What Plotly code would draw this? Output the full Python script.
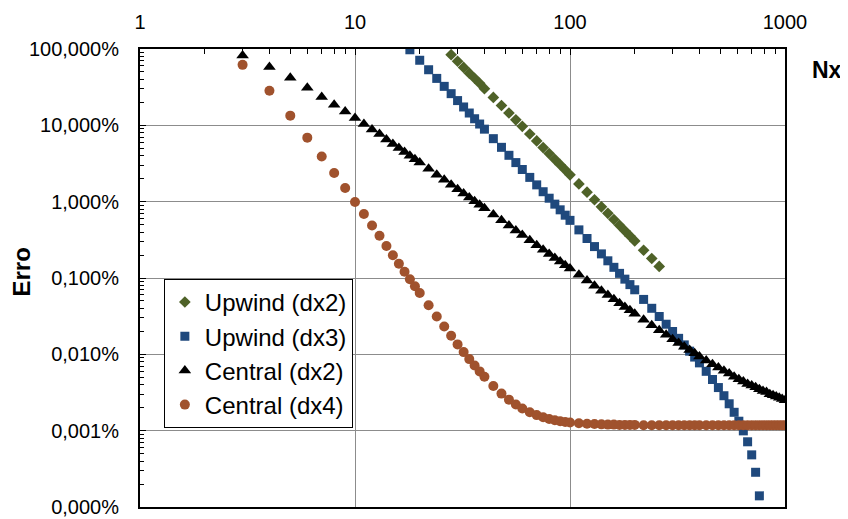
import plotly.graph_objects as go

# Sample sizes (Nx) shared by the series
N_all = [3, 4, 5, 6, 7, 8, 9, 10, 11, 12, 13, 14, 15, 16, 17, 18, 19, 20,
         22, 24, 26, 28, 30, 32, 34, 36, 38, 40, 44, 48, 52, 56, 60, 65, 70,
         75, 80, 85, 90, 95, 100, 110, 120, 130, 140, 150, 160, 170, 180, 190,
         200, 220, 240, 260, 280, 300, 320, 340, 360, 380, 400, 430, 460, 490,
         520, 550, 580, 610, 640, 670, 700, 730, 760, 790, 820, 850, 880, 910,
         940, 970, 1000]

# Upwind (dx2) : N = 28 .. 260
N_up2 = [28, 30, 32, 34, 36, 38, 40, 44, 48, 52, 56, 60, 65, 70, 75, 80, 85,
         90, 95, 100, 110, 120, 130, 140, 150, 160, 170, 180, 190, 200, 220,
         240, 260]
E_up2 = [84.2, 69.1, 57.4, 48.3, 41.4, 35.6, 30.2, 23.2, 18.2, 14.5, 11.8, 9.7,
         7.7, 6.25, 5.12, 4.26, 3.59, 3.05, 2.61, 2.25, 1.71, 1.33, 1.06, 0.855,
         0.703, 0.584, 0.490, 0.415, 0.356, 0.306, 0.231, 0.180, 0.142]

# Upwind (dx3) : N = 18 .. 760
N_up3 = [18, 20, 22, 24, 26, 28, 30, 32, 34, 36, 38, 40, 44, 48, 52, 56, 60,
         65, 70, 75, 80, 85, 90, 95, 100, 110, 120, 130, 140, 150, 160, 170,
         180, 190, 200, 220, 240, 260, 280, 300, 320, 340, 360, 380, 400, 430,
         460, 490, 520, 550, 580, 610, 640, 670, 700, 730, 760]
E_up3 = [97.7, 71.2, 53.5, 41.2, 32.4, 26.0, 21.1, 17.4, 14.5, 12.2, 10.4, 8.91,
         6.69, 5.15, 4.05, 3.25, 2.64, 2.08, 1.66, 1.35, 1.11, 0.928, 0.782,
         0.665, 0.569, 0.427, 0.329, 0.258, 0.207, 0.168, 0.138, 0.115, 0.0966,
         0.0819, 0.0701, 0.0524, 0.0401, 0.0313, 0.0248, 0.0199, 0.0162, 0.0133,
         0.0110, 0.00921, 0.00773, 0.00599, 0.00468, 0.00367, 0.00287, 0.00225,
         0.00174, 0.00133, 0.000994, 0.000715, 0.000482, 0.000285, 0.000140]

# Central (dx2) : N = 3 .. 1000 (all of N_all)
E_c2 = [82, 58, 42, 31, 23.5, 18.6, 15.2, 12.5, 10.4, 8.8, 7.7, 6.54, 5.71,
        5.04, 4.47, 4.00, 3.59, 3.25, 2.69, 2.26, 1.93, 1.67, 1.45, 1.28, 1.13,
        1.01, 0.908, 0.820, 0.678, 0.570, 0.486, 0.419, 0.365, 0.312, 0.269,
        0.235, 0.207, 0.183, 0.164, 0.147, 0.133, 0.110, 0.0926, 0.0791, 0.0683,
        0.0597, 0.0526, 0.0467, 0.0418, 0.0377, 0.0341, 0.0284, 0.0241, 0.0207,
        0.0180, 0.0158, 0.0141, 0.0126, 0.0114, 0.0103, 0.0094, 0.0083, 0.0074,
        0.0067, 0.0061, 0.0056, 0.0051, 0.0047, 0.0044, 0.0041, 0.0039, 0.0037,
        0.0035, 0.0033, 0.0032, 0.0030, 0.0029, 0.0028, 0.0027, 0.0026, 0.0025]

# Central (dx4) : N = 3 .. 1000 (all of N_all)
E_c4 = [62, 28.4, 13.4, 6.9, 3.9, 2.37, 1.51, 0.99, 0.69, 0.488, 0.357, 0.262,
        0.199, 0.154, 0.121, 0.0965, 0.0779, 0.0637, 0.0439, 0.0313, 0.0231,
        0.0175, 0.0135, 0.0107, 0.00866, 0.00713, 0.00598, 0.00509, 0.00385,
        0.00306, 0.00255, 0.00220, 0.00195, 0.00174, 0.00160, 0.00150, 0.00142,
        0.00137, 0.00133, 0.00130, 0.00128, 0.00125, 0.00123, 0.00122, 0.00121,
        0.00120, 0.00120, 0.00119, 0.00119, 0.00119, 0.00119, 0.00118, 0.00118,
        0.00118, 0.00118, 0.00118, 0.00118, 0.00118, 0.00118, 0.00118, 0.00118,
        0.00118, 0.00118, 0.00118, 0.00118, 0.00118, 0.00118, 0.00118, 0.00118,
        0.00118, 0.00118, 0.00118, 0.00118, 0.00118, 0.00118, 0.00118, 0.00118,
        0.00118, 0.00118, 0.00118, 0.00118]

series_names = ["Upwind (dx2)", "Upwind (dx3)", "Central (dx2)", "Central (dx4)"]

x_tickvals = [1, 10, 100, 1000]
x_ticktext = ["1", "10", "100", "1000"]
y_tickvals = [100, 10, 1, 0.1, 0.01, 0.001, 0.0001]
y_ticktext = ["100,000%", "10,000%", "1,000%", "0,100%", "0,010%", "0,001%", "0,000%"]

x_minor = [k * 10 ** e for e in range(0, 3) for k in range(2, 10)]
y_minor = [k * 10.0 ** e for e in range(-4, 2) for k in range(2, 10)]

FONT = "Liberation Sans, Arial, sans-serif"

fig = go.Figure()
fig.add_trace(go.Scatter(x=N_up2, y=E_up2, mode="markers", name=series_names[0],
                         marker=dict(symbol="diamond", size=9, color="#4F6228")))
fig.add_trace(go.Scatter(x=N_up3, y=E_up3, mode="markers", name=series_names[1],
                         marker=dict(symbol="square", size=9, color="#1F497D")))
fig.add_trace(go.Scatter(x=N_all, y=E_c2, mode="markers", name=series_names[2],
                         marker=dict(symbol="triangle-up", size=11, color="#000000")))
fig.add_trace(go.Scatter(x=N_all, y=E_c4, mode="markers", name=series_names[3],
                         marker=dict(symbol="circle", size=10, color="#A0522D")))

# The page body adds an 8 px offset, so the figure is 8 px smaller and the
# left/top margins are 8 px smaller.
fig.update_layout(
    width=840, height=511,
    margin=dict(l=132, r=63, t=41, b=12, autoexpand=False),
    paper_bgcolor="white", plot_bgcolor="white",
    font=dict(family=FONT, size=20, color="#000000"),
    showlegend=True,
    legend=dict(x=0.037, y=0.498, xanchor="left", yanchor="top",
                bgcolor="white", bordercolor="#000000", borderwidth=1,
                font=dict(family=FONT, size=24, color="#000000"),
                itemwidth=30, tracegroupgap=0),
    xaxis=dict(type="log", range=[0, 3], side="top", automargin=False,
               tickvals=x_tickvals, ticktext=x_ticktext,
               ticks="inside", ticklen=6, tickwidth=1, tickcolor="#000000",
               ticklabelstandoff=10,
               showline=True, linewidth=2, linecolor="#000000", mirror=True,
               showgrid=True, gridcolor="#8c8c8c", gridwidth=1,
               zeroline=False,
               minor=dict(tickvals=x_minor, ticks="inside", ticklen=5,
                          tickcolor="#000000", tickwidth=1, showgrid=False)),
    yaxis=dict(type="log", range=[-4, 2], automargin=False,
               tickvals=y_tickvals, ticktext=y_ticktext,
               ticks="inside", ticklen=6, tickwidth=1, tickcolor="#000000",
               ticklabelstandoff=15,
               showline=True, linewidth=2, linecolor="#000000", mirror=True,
               showgrid=True, gridcolor="#8c8c8c", gridwidth=1,
               zeroline=False,
               minor=dict(tickvals=y_minor, ticks="inside", ticklen=4,
                          tickcolor="#000000", tickwidth=1, showgrid=False)),
    annotations=[
        dict(text="<b>Erro</b>", xref="paper", yref="paper", x=-0.183, y=0.514,
             xanchor="center", yanchor="middle", textangle=-90, showarrow=False,
             font=dict(family=FONT, size=24, color="#000000")),
        dict(text="<b>Nx</b>", xref="paper", yref="paper", x=1.065, y=0.955,
             xanchor="center", yanchor="middle", showarrow=False,
             font=dict(family=FONT, size=23, color="#000000")),
    ],
)

fig.write_html("out.html")
